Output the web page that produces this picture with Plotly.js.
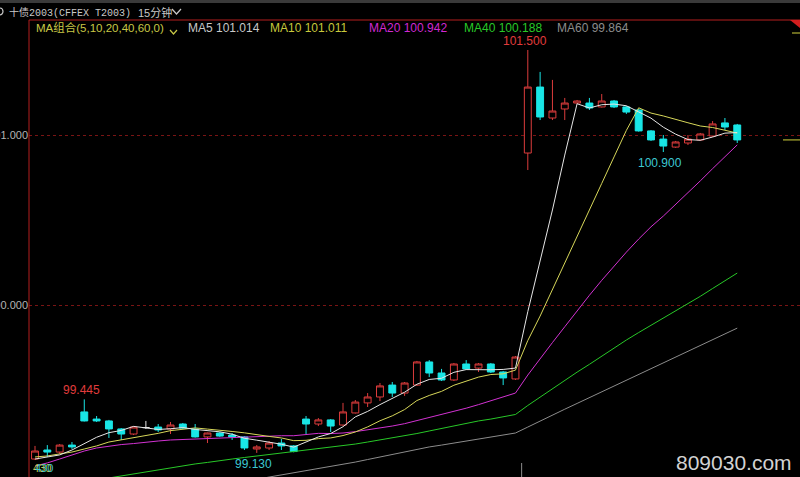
<!DOCTYPE html>
<html>
<head>
<meta charset="utf-8">
<script src="https://cdn.plot.ly/plotly-3.0.1.min.js"></script>
<style>
  html, body { margin: 0; padding: 0; background: #000; overflow: hidden; }
  #chart { width: 800px; height: 477px; }
</style>
</head>
<body>
<div id="chart"></div>
<script>
// 15-minute bars, 十债2003 (CFFEX T2003)
const open = [99.094, 99.147, 99.135, 99.176, 99.371, 99.329, 99.318, 99.271, 99.241, 99.279,
  99.282, 99.271, 99.300, 99.271, 99.224, 99.247, 99.235, 99.224, 99.153, 99.159,
  99.188, 99.171, 99.329, 99.300, 99.324, 99.294, 99.365, 99.424, 99.459, 99.529,
  99.482, 99.529, 99.665, 99.600, 99.559, 99.653, 99.629, 99.653, 99.606, 99.565,
  100.894, 101.282, 101.100, 101.153, 101.188, 101.188, 101.165, 101.200, 101.165, 101.147,
  101.024, 100.976, 100.929, 100.953, 100.971, 100.994, 101.071, 101.059];
const high = [99.171, 99.176, 99.182, 99.194, 99.445, 99.347, 99.324, 99.276, 99.288, 99.318,
  99.300, 99.312, 99.306, 99.300, 99.249, 99.253, 99.247, 99.229, 99.176, 99.200,
  99.212, 99.176, 99.347, 99.335, 99.329, 99.424, 99.441, 99.482, 99.541, 99.547,
  99.547, 99.671, 99.676, 99.624, 99.659, 99.676, 99.659, 99.659, 99.612, 99.700,
  101.500, 101.371, 101.324, 101.218, 101.206, 101.218, 101.241, 101.206, 101.171, 101.153,
  101.029, 101.000, 100.965, 101.000, 101.012, 101.082, 101.100, 101.065];
const low = [99.088, 99.106, 99.124, 99.153, 99.315, 99.312, 99.218, 99.206, 99.235, 99.271,
  99.253, 99.241, 99.271, 99.220, 99.188, 99.224, 99.206, 99.147, 99.130, 99.147,
  99.147, 99.133, 99.241, 99.288, 99.253, 99.290, 99.362, 99.400, 99.435, 99.459,
  99.465, 99.524, 99.576, 99.553, 99.553, 99.618, 99.606, 99.600, 99.529, 99.559,
  100.794, 101.088, 101.088, 101.088, 101.182, 101.147, 101.162, 101.159, 101.124, 101.020,
  100.965, 100.900, 100.924, 100.941, 100.965, 100.988, 101.029, 100.953];
const close = [99.141, 99.135, 99.176, 99.165, 99.318, 99.318, 99.271, 99.241, 99.282, 99.279,
  99.265, 99.294, 99.276, 99.224, 99.247, 99.229, 99.224, 99.159, 99.165, 99.188,
  99.171, 99.138, 99.300, 99.324, 99.288, 99.371, 99.429, 99.459, 99.524, 99.482,
  99.541, 99.665, 99.600, 99.559, 99.653, 99.624, 99.653, 99.606, 99.571, 99.694,
  101.282, 101.106, 101.141, 101.188, 101.200, 101.159, 101.200, 101.165, 101.135, 101.024,
  100.971, 100.935, 100.959, 100.976, 101.006, 101.065, 101.047, 100.971];
// bars whose open equals close (drawn as white crosses)
const dojiBars = [9];

// moving averages at each bar
const ma5 = [99.094, 99.106, 99.118, 99.147, 99.187, 99.222, 99.249, 99.262, 99.286, 99.278,
  99.268, 99.272, 99.279, 99.268, 99.261, 99.254, 99.240, 99.216, 99.205, 99.193,
  99.181, 99.164, 99.192, 99.224, 99.244, 99.284, 99.342, 99.374, 99.414, 99.453,
  99.487, 99.534, 99.562, 99.569, 99.604, 99.620, 99.618, 99.619, 99.621, 99.629,
  99.961, 100.252, 100.559, 100.882, 101.184, 101.159, 101.178, 101.182, 101.172, 101.136,
  101.099, 101.046, 101.005, 100.973, 100.969, 100.988, 101.011, 101.014];
const ma10 = [99.106, 99.112, 99.124, 99.135, 99.153, 99.171, 99.194, 99.206, 99.218, 99.233,
  99.245, 99.261, 99.271, 99.277, 99.270, 99.261, 99.256, 99.248, 99.236, 99.227,
  99.218, 99.202, 99.204, 99.214, 99.218, 99.232, 99.253, 99.283, 99.319, 99.348,
  99.385, 99.438, 99.468, 99.492, 99.528, 99.554, 99.576, 99.591, 99.595, 99.617,
  99.791, 99.935, 100.089, 100.252, 100.406, 100.560, 100.715, 100.871, 101.027, 101.160,
  101.129, 101.112, 101.094, 101.072, 101.053, 101.044, 101.028, 101.011];
const ma20 = [99.053, 99.071, 99.094, 99.118, 99.141, 99.159, 99.171, 99.179, 99.185, 99.194,
  99.200, 99.206, 99.209, 99.212, 99.215, 99.218, 99.221, 99.224, 99.226, 99.230,
  99.231, 99.231, 99.238, 99.245, 99.244, 99.247, 99.255, 99.265, 99.278, 99.288,
  99.302, 99.320, 99.336, 99.353, 99.373, 99.393, 99.414, 99.437, 99.457, 99.482,
  99.588, 99.686, 99.779, 99.872, 99.967, 100.057, 100.145, 100.231, 100.311, 100.388,
  100.460, 100.523, 100.591, 100.662, 100.730, 100.802, 100.872, 100.942];
const ma40 = [98.912, 98.924, 98.935, 98.947, 98.959, 98.971, 98.982, 98.994, 99.006, 99.021,
  99.032, 99.044, 99.056, 99.065, 99.074, 99.082, 99.094, 99.103, 99.112, 99.121,
  99.129, 99.135, 99.144, 99.153, 99.162, 99.171, 99.182, 99.194, 99.206, 99.218,
  99.229, 99.244, 99.259, 99.274, 99.288, 99.303, 99.318, 99.329, 99.342, 99.356,
  99.409, 99.459, 99.508, 99.558, 99.605, 99.651, 99.700, 99.748, 99.794, 99.838,
  99.880, 99.921, 99.963, 100.007, 100.051, 100.097, 100.143, 100.188];
const ma60 = [98.759, 98.771, 98.782, 98.794, 98.806, 98.818, 98.829, 98.841, 98.853, 98.865,
  98.876, 98.888, 98.900, 98.912, 98.924, 98.935, 98.947, 98.959, 98.974, 98.988,
  99.000, 99.012, 99.026, 99.038, 99.050, 99.062, 99.076, 99.091, 99.106, 99.121,
  99.135, 99.150, 99.165, 99.176, 99.188, 99.200, 99.212, 99.224, 99.235, 99.247,
  99.282, 99.318, 99.353, 99.387, 99.421, 99.455, 99.489, 99.524, 99.558, 99.592,
  99.626, 99.660, 99.694, 99.728, 99.762, 99.796, 99.831, 99.864];

const maNames = ['MA5', 'MA10', 'MA20', 'MA40', 'MA60'];
const maSeries = [ma5, ma10, ma20, ma40, ma60];
const maColors = ['#e6e6e6', '#d7d75a', '#d232d2', '#28c828', '#8c8c8c'];
const maLegendColors = ['#c8c8c8', '#c8c83c', '#d228d2', '#28c828', '#8c8c8c'];
const maLegendLeft = [186, 268, 367, 462, 555];

const yTickVals = [100, 101];
const yTickText = ['100.000', '101.000'];

// marked extremes: [bar, 'high' | 'low', colour]
const markedExtremes = [[40, 'high', '#e03c3c'], [4, 'high', '#e03c3c'], [51, 'low', '#3cc8d2'], [18, 'low', '#3cc8d2']];

const instrument = '十债2003(CFFEX T2003)';
const period = '15分钟';
const maGroup = 'MA组合(5,10,20,40,60,0)';
const sessionBreak = 39.5;

const RED = '#dc3c3c', CYAN = '#19e6e6';
const FONT = 'Liberation Sans, Arial, Noto Sans CJK SC, sans-serif';

// page pixels -> paper coordinates (plot area spans x 29..800, y 20..477)
const PL = 29, PR = 800, PT = 20, PB = 477;
const px = X => (X - PL) / (PR - PL);
const py = Y => (PB - Y) / (PB - PT);

const idx = close.map((_, i) => i);
const mainIdx = idx.filter(i => !dojiBars.includes(i));
const pick = (arr, list) => list.map(i => arr[i]);

const data = [];
data.push({
  type: 'candlestick',
  x: mainIdx, open: pick(open, mainIdx), high: pick(high, mainIdx),
  low: pick(low, mainIdx), close: pick(close, mainIdx),
  increasing: { line: { color: RED, width: 1 }, fillcolor: '#000000' },
  decreasing: { line: { color: CYAN, width: 1 }, fillcolor: CYAN },
  hoverinfo: 'skip', showlegend: false
});
data.push({
  type: 'candlestick',
  x: dojiBars, open: pick(open, dojiBars), high: pick(high, dojiBars),
  low: pick(low, dojiBars), close: pick(close, dojiBars),
  increasing: { line: { color: '#e6e6e6', width: 1 }, fillcolor: '#e6e6e6' },
  decreasing: { line: { color: '#e6e6e6', width: 1 }, fillcolor: '#e6e6e6' },
  hoverinfo: 'skip', showlegend: false
});
for (let k = maSeries.length - 1; k >= 0; k--) {
  data.push({
    type: 'scatter', mode: 'lines', x: idx, y: maSeries[k], name: maNames[k],
    line: { color: maColors[k], width: 1 }, hoverinfo: 'skip', showlegend: false
  });
}

const annotations = [];
const addText = (text, X, Y, color, size, family, anchor) => annotations.push({
  xref: 'paper', yref: 'paper', x: px(X), y: py(Y), text: text, showarrow: false,
  xanchor: anchor || 'left', yanchor: 'middle',
  font: { color: color, size: size, family: family || FONT }
});

addText(instrument, 7, 12, '#c8c8c8', 10, 'Liberation Mono, Noto Sans CJK SC, monospace');
addText(period, 136, 12, '#c8c8c8', 11);
addText(maGroup, 34, 28, '#c8c846', 11.5);
maNames.forEach((n, k) => {
  const s = maSeries[k];
  addText(n + ' ' + s[s.length - 1].toFixed(3), maLegendLeft[k], 28, maLegendColors[k], 12);
});
markedExtremes.forEach(([bar, kind, color]) => {
  const v = kind === 'high' ? high[bar] : low[bar];
  annotations.push({
    xref: 'x', yref: 'y', x: bar, y: v, text: v.toFixed(3), showarrow: false,
    xanchor: 'center', yanchor: kind === 'high' ? 'bottom' : 'top',
    xshift: -3, yshift: kind === 'high' ? 0 : -2,
    font: { color: color, size: 12, family: FONT }
  });
});
// the two stacked counters in the bottom-left corner overlap each other
addText('430', 31, 468, '#c8c83c', 11);
addText('430', 33, 468, '#3cc8d2', 11);
addText('809030.com', 734, 462, '#d2d2d2', 21, FONT, 'center');

const shapes = [
  { type: 'rect', xref: 'paper', yref: 'paper', x0: px(0), x1: px(800), y0: py(3), y1: py(0),
    fillcolor: '#3a3a3a', line: { width: 0 }, layer: 'above' },
  { type: 'line', xref: 'paper', yref: 'paper', x0: 0, x1: 1, y0: 1, y1: 1,
    line: { color: '#b41e1e', width: 1 } },
  { type: 'line', xref: 'paper', yref: 'paper', x0: 0, x1: 0, y0: 0, y1: 1,
    line: { color: '#b41e1e', width: 1 } },
  { type: 'path', xref: 'paper', yref: 'paper',
    path: `M${px(790)},${py(20)} L${px(800)},${py(20)} L${px(800)},${py(28)} Z`,
    fillcolor: '#d21e1e', line: { width: 0 } },
  { type: 'line', xref: 'paper', yref: 'y', x0: px(783), x1: 1,
    y0: close[close.length - 1], y1: close[close.length - 1],
    line: { color: '#d2d23c', width: 1 } },
  { type: 'line', xref: 'paper', yref: 'paper', x0: px(792), x1: 1, y0: py(33), y1: py(33),
    line: { color: '#d2d23c', width: 1 } },
  { type: 'line', xref: 'x', yref: 'paper', x0: sessionBreak, x1: sessionBreak, y0: 0, y1: py(463),
    line: { color: '#8c8c8c', width: 1 } },
  { type: 'path', xref: 'paper', yref: 'paper',
    path: `M${px(172)},${py(9)} L${px(176.5)},${py(14)} L${px(181)},${py(9)}`,
    line: { color: '#c8c8c8', width: 1.2 } },
  { type: 'path', xref: 'paper', yref: 'paper',
    path: `M${px(170)},${py(30)} L${px(173.5)},${py(34)} L${px(177)},${py(30)}`,
    line: { color: '#c8c846', width: 1.2 } },
  { type: 'circle', xref: 'paper', yref: 'paper', x0: px(-4), x1: px(3), y0: py(15), y1: py(8),
    line: { color: '#c8c8c8', width: 1.2 } }
];

const layout = {
  width: 800, height: 477,
  paper_bgcolor: '#000000', plot_bgcolor: '#000000',
  margin: { l: PL, r: 800 - PR, t: PT, b: 477 - PB, pad: 0, autoexpand: false },
  boxgap: 0.2,
  showlegend: false,
  xaxis: {
    range: [-6 / 12.32, 765 / 12.32], showgrid: false, zeroline: false,
    showticklabels: false, ticks: '', showline: false, fixedrange: true,
    rangeslider: { visible: false }
  },
  yaxis: {
    range: [101 - 342 / 170, 101 + 115 / 170],
    tickvals: yTickVals, ticktext: yTickText, ticks: '',
    tickfont: { color: '#b4b4b4', size: 11, family: FONT },
    showgrid: true, gridcolor: '#7a1414', gridwidth: 1, griddash: '3px,3px',
    zeroline: false, showline: false, fixedrange: true
  },
  annotations: annotations,
  shapes: shapes
};

Plotly.newPlot('chart', data, layout, { staticPlot: true, displayModeBar: false });
</script>
</body>
</html>
